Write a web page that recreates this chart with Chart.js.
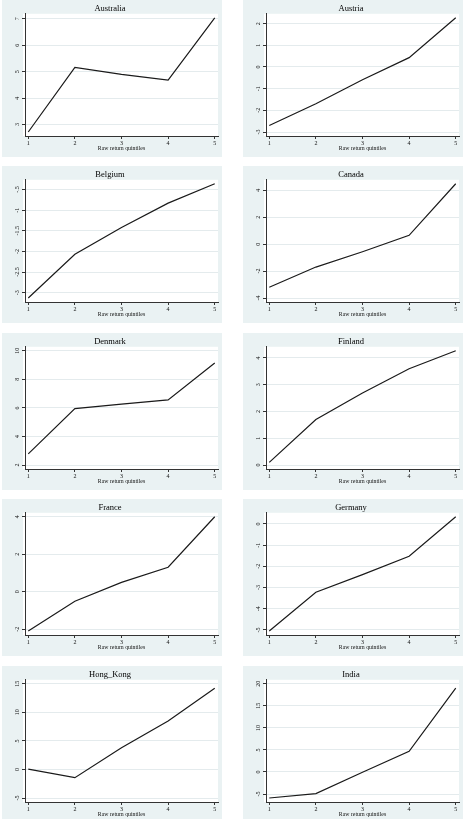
<!DOCTYPE html>
<html><head><meta charset="utf-8">
<script src="https://cdn.jsdelivr.net/npm/chart.js@4.4.1/dist/chart.umd.min.js"></script>
<style>
html,body{margin:0;padding:0;background:#fff;}
#wrap{position:relative;width:469px;height:819px;overflow:hidden;background:#fff;}
.panel{position:absolute;width:220px;height:157px;background:#eaf2f3;}
canvas{display:block;}
</style></head><body><div id="wrap"></div>
<script>
// ---- data ----
const quintiles = [1, 2, 3, 4, 5];
const xTickValues = [1, 2, 3, 4, 5];
const xTitle = "Raw return quintiles";
const countryNames = ["Australia", "Austria", "Belgium", "Canada", "Denmark",
                      "Finland", "France", "Germany", "Hong_Kong", "India"];

const australia = [2.72, 5.16, 4.90, 4.68, 7.04];
const austria   = [-2.70, -1.70, -0.59, 0.43, 2.27];
const belgium   = [-3.13, -2.07, -1.42, -0.83, -0.36];
const canada    = [-3.20, -1.70, -0.56, 0.66, 4.49];
const denmark   = [2.78, 5.95, 6.26, 6.56, 9.15];
const finland   = [0.10, 1.70, 2.69, 3.60, 4.27];
const france    = [-2.09, -0.50, 0.50, 1.31, 4.00];
const germany   = [-5.05, -3.22, -2.39, -1.52, 0.34];
const hongKong  = [0.06, -1.44, 3.80, 8.50, 14.20];
const india     = [-5.90, -4.90, -0.07, 4.70, 19.00];

const australiaTicks = [3, 4, 5, 6, 7];
const austriaTicks   = [-3, -2, -1, 0, 1, 2];
const belgiumTicks   = [-3, -2.5, -2, -1.5, -1, -0.5];
const canadaTicks    = [-4, -2, 0, 2, 4];
const denmarkTicks   = [2, 4, 6, 8, 10];
const finlandTicks   = [0, 1, 2, 3, 4];
const franceTicks    = [-2, 0, 2, 4];
const germanyTicks   = [-5, -4, -3, -2, -1, 0];
const hongKongTicks  = [-5, 0, 5, 10, 15];
const indiaTicks     = [-5, 0, 5, 10, 15, 20];

const seriesList = [australia, austria, belgium, canada, denmark, finland, france, germany, hongKong, india];
const tickList = [australiaTicks, austriaTicks, belgiumTicks, canadaTicks, denmarkTicks,
                  finlandTicks, franceTicks, germanyTicks, hongKongTicks, indiaTicks];

// ---- layout / style ----
const SERIF = "'Liberation Serif', 'Times New Roman', serif";
const colLeft = [2, 243];
const rowTop = [0, 166, 333, 499, 666];
const PW = 220, PH = 157;

function fmt(v) {
  let s = String(v);
  return s.replace(/^(-?)0\./, '$1.');
}

const bgPlugin = {
  id: 'bgPlugin',
  beforeDraw(chart) {
    const {ctx, chartArea: a} = chart;
    ctx.save();
    ctx.fillStyle = '#eaf2f3';
    ctx.fillRect(0, 0, chart.width, chart.height);
    ctx.fillStyle = '#ffffff';
    ctx.fillRect(a.left - 2, a.top, a.right - a.left + 2, a.bottom - a.top);
    ctx.restore();
  }
};

const yLabelPlugin = {
  id: 'yLabelPlugin',
  afterDraw(chart) {
    const s = chart.scales.y;
    const ctx = chart.ctx;
    ctx.save();
    ctx.fillStyle = '#111';
    ctx.font = "6px " + SERIF;
    ctx.textAlign = 'center';
    ctx.textBaseline = 'middle';
    const x = s.right - 7.5;
    s.ticks.forEach(t => {
      const y = s.getPixelForValue(t.value);
      ctx.save();
      ctx.translate(x, y);
      ctx.rotate(-Math.PI / 2);
      ctx.fillText(fmt(t.value), 0, 0);
      ctx.restore();
    });
    ctx.restore();
  }
};

const wrap = document.getElementById('wrap');
countryNames.forEach((name, i) => {
  const div = document.createElement('div');
  div.className = 'panel';
  div.style.left = colLeft[i % 2] + 'px';
  div.style.top = rowTop[Math.floor(i / 2)] + 'px';
  const cv = document.createElement('canvas');
  cv.width = PW; cv.height = PH;
  cv.style.width = PW + 'px'; cv.style.height = PH + 'px';
  div.appendChild(cv);
  wrap.appendChild(div);

  const data = seriesList[i];
  const ticks = tickList[i];
  const lo = Math.min(...data, ...ticks);
  const hi = Math.max(...data, ...ticks);
  const pad = (hi - lo) * 0.035;

  new Chart(cv, {
    type: 'line',
    data: {
      datasets: [{
        data: quintiles.map((q, k) => ({x: q, y: data[k]})),
        borderColor: '#1a1a1a',
        borderWidth: 1.2,
        pointRadius: 0,
        fill: false,
        tension: 0
      }]
    },
    options: {
      responsive: false,
      animation: false,
      devicePixelRatio: 1,
      layout: {padding: {left: 0, right: 4, top: 0, bottom: 5}},
      plugins: {
        legend: {display: false},
        tooltip: {enabled: false},
        title: {
          display: true, text: name, color: '#000',
          font: {family: SERIF, size: 8.5, weight: 'normal', lineHeight: 1.15},
          padding: {top: 4, bottom: 0}
        }
      },
      scales: {
        x: {
          type: 'linear', min: 0.93, max: 5.07,
          afterBuildTicks: s => { s.ticks = xTickValues.map(v => ({value: v})); },
          afterFit: s => { s.height = 16; },
          ticks: {color: '#111', font: {family: SERIF, size: 6}, padding: 1, maxRotation: 0,
                  callback: v => String(v)},
          grid: {drawOnChartArea: false, tickLength: 3, tickColor: '#333', tickWidth: 1},
          border: {color: '#333', width: 1},
          title: {display: true, text: xTitle, color: '#111',
                  font: {family: SERIF, size: 5.8}, padding: {top: 0, bottom: 0}}
        },
        y: {
          type: 'linear', min: lo - pad, max: hi + pad,
          afterBuildTicks: s => { s.ticks = ticks.map(v => ({value: v})); },
          afterFit: s => { s.width = 23; },
          ticks: {display: false},
          grid: {color: '#e4ebed', lineWidth: 1, tickLength: 3, tickColor: '#333', tickWidth: 1},
          border: {color: '#333', width: 1}
        }
      }
    },
    plugins: [bgPlugin, yLabelPlugin]
  });
});
</script>
</body></html>
